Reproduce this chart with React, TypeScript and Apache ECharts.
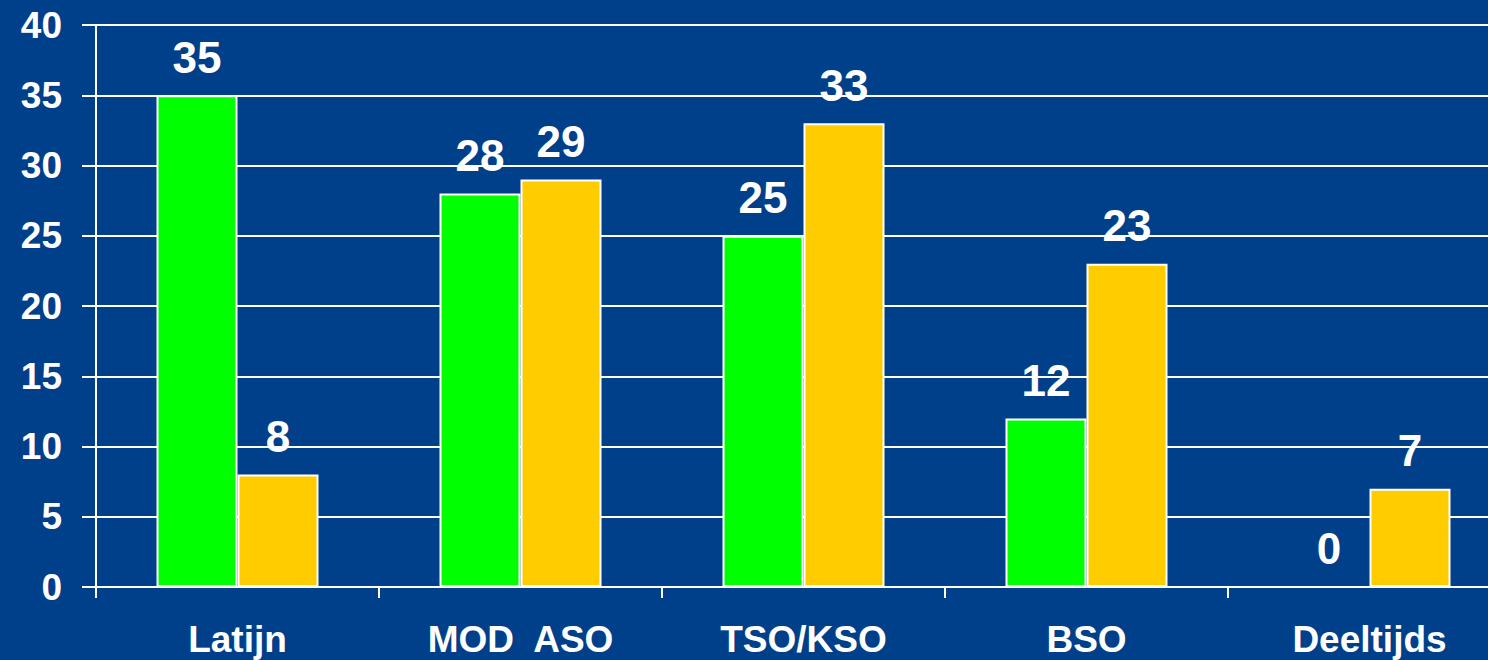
import React, { useEffect, useRef } from "react";
import * as echarts from "echarts";

const categories = ["Latijn", "MOD  ASO", "TSO/KSO", "BSO", "Deeltijds"];
const greenValues = [35, 28, 25, 12, 0];
const yellowValues = [8, 29, 33, 23, 7];
const yMin = 0;
const yMax = 40;
const yInterval = 5;

const FONT = "'Liberation Sans', Arial, sans-serif";

export default function App() {
  const ref = useRef<HTMLDivElement>(null);
  useEffect(() => {
    if (!ref.current) return;
    const chart = echarts.init(ref.current, null, { renderer: "svg" });
    const labelStyle = {
      show: true,
      position: "top" as const,
      distance: 16,
      color: "#ffffff",
      fontFamily: FONT,
      fontWeight: "bold" as const,
      fontSize: 44,
    };
    chart.setOption({
      animation: false,
      backgroundColor: "#00408A",
      grid: { left: 96, right: 0, top: 25, bottom: 73, containLabel: false },
      xAxis: {
        type: "category",
        data: categories,
        axisLine: { show: true, lineStyle: { color: "#ffffff", width: 2 } },
        axisTick: { show: true, length: 11, lineStyle: { color: "#ffffff", width: 2 } },
        axisLabel: {
          color: "#ffffff",
          fontFamily: FONT,
          fontWeight: "bold",
          fontSize: 37,
          margin: 34,
          interval: 0,
        },
        splitLine: { show: false },
      },
      yAxis: {
        type: "value",
        min: yMin,
        max: yMax,
        interval: yInterval,
        axisLine: { show: true, lineStyle: { color: "#ffffff", width: 2 } },
        axisTick: { show: true, length: 14, lineStyle: { color: "#ffffff", width: 2 } },
        axisLabel: {
          color: "#ffffff",
          fontFamily: FONT,
          fontWeight: "bold",
          fontSize: 37,
          margin: 34,
        },
        splitLine: { show: true, lineStyle: { color: "#ffffff", width: 2 } },
      },
      series: [
        {
          type: "bar",
          data: greenValues,
          barWidth: 81,
          barGap: "0%",
          itemStyle: { color: "#00FF00", borderColor: "#ffffff", borderWidth: 2 },
          label: labelStyle,
        },
        {
          type: "bar",
          data: yellowValues,
          barWidth: 81,
          barGap: "0%",
          itemStyle: { color: "#FFCC00", borderColor: "#ffffff", borderWidth: 2 },
          label: labelStyle,
        },
      ],
    });
    return () => chart.dispose();
  }, []);
  return (
    <div
      ref={ref}
      style={{ position: "fixed", left: 0, top: 0, width: 1511, height: 660 }}
    />
  );
}
